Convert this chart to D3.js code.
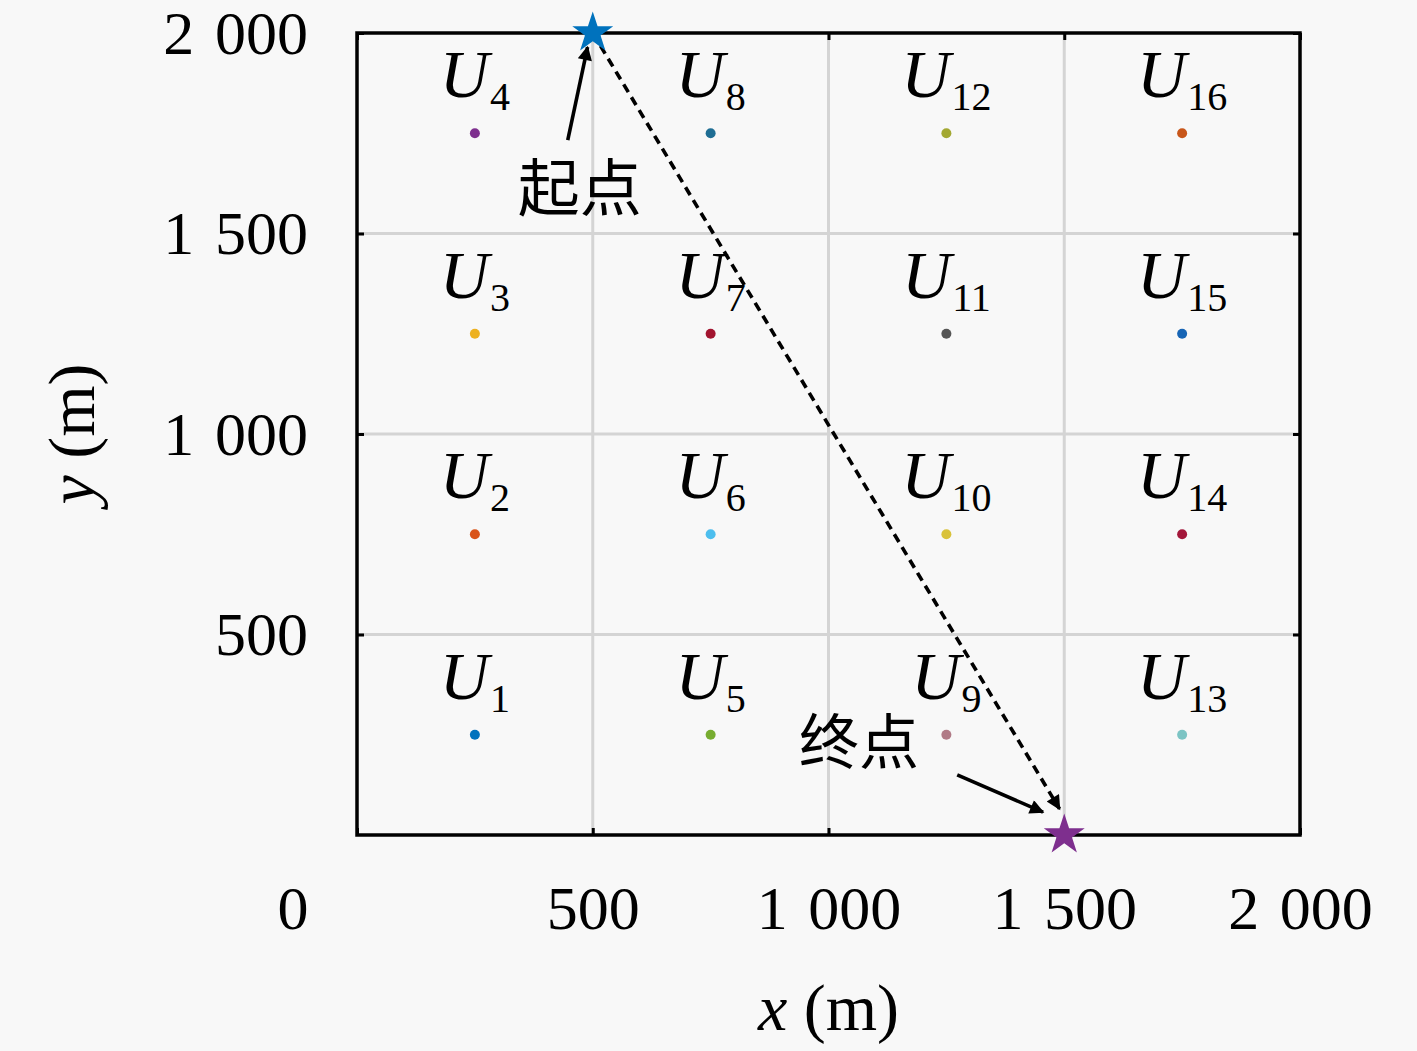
<!DOCTYPE html>
<html><head><meta charset="utf-8">
<script src="https://cdn.jsdelivr.net/npm/d3@7"></script>
<style>
html,body{margin:0;padding:0;background:#f8f8f8;}
svg{display:block;}
</style></head>
<body>
<script>
// ---- data ----
const userIds = [1,2,3,4,5,6,7,8,9,10,11,12,13,14,15,16];
const userX = [250,250,250,250,750,750,750,750,1250,1250,1250,1250,1750,1750,1750,1750];
const userY = [250,750,1250,1750,250,750,1250,1750,250,750,1250,1750,250,750,1250,1750];
const userColors = ["#0072BD","#D95319","#EDB120","#7E2F8E","#77AC30","#4DBEEE","#A2142F","#1f6e94",
                    "#b07a86","#d9c23a","#555555","#a3a832","#7cc4c4","#a3173a","#1765b5","#c8561a"];
const xTicks = [0,500,1000,1500,2000];
const xTickLabels = ["0","500","1\u2004000","1\u2004500","2\u2004000"];
const yTicks = [500,1000,1500,2000];
const yTickLabels = ["500","1\u2004000","1\u2004500","2\u2004000"];
const startPoint = [500,2000];
const endPoint = [1500,0];
const pathArrow = [[500,2000],[1490,65]];
const startArrow = [[447,1733],[489,1965]];
const endArrow = [[1273,150],[1455,57]];
const startText = {label:"起点", x:341, y:1555};
const endText = {label:"终点", x:1192, y:178};

// ---- layout ----
const W = 1417, H = 1051;
const svg = d3.select("body").append("svg").attr("width",W).attr("height",H)
  .style("background","#f8f8f8");
const x = d3.scaleLinear().domain([0,2000]).range([357,1300]);
const y = d3.scaleLinear().domain([0,2000]).range([835,33]);
const serif = "'Liberation Serif','DejaVu Serif',serif";
const cjk = "'Noto Sans CJK SC','Noto Sans CJK JP',sans-serif";

const defs = svg.append("defs");
defs.append("marker").attr("id","ah").attr("viewBox","0 0 10 10").attr("refX",9).attr("refY",5)
  .attr("markerWidth",6).attr("markerHeight",4).attr("markerUnits","strokeWidth").attr("orient","auto")
  .append("path").attr("d","M0,0 L10,5 L0,10 Z").attr("fill","#000");

// grid
const g = svg.append("g");
g.selectAll("line.gx").data(xTicks.filter(d=>d>0&&d<2000)).join("line")
  .attr("x1",d=>x(d)).attr("x2",d=>x(d)).attr("y1",y(0)).attr("y2",y(2000))
  .attr("stroke","#d4d4d4").attr("stroke-width",3);
g.selectAll("line.gy").data(yTicks.filter(d=>d>0&&d<2000)).join("line")
  .attr("y1",d=>y(d)).attr("y2",d=>y(d)).attr("x1",x(0)).attr("x2",x(2000))
  .attr("stroke","#d4d4d4").attr("stroke-width",3);

// axes
const axB = d3.axisBottom(x).tickValues(xTicks).tickFormat((d,i)=>xTickLabels[i]).tickSizeInner(-7).tickSizeOuter(0).tickPadding(50);
const axL = d3.axisLeft(y).tickValues(yTicks).tickFormat((d,i)=>yTickLabels[i]).tickSizeInner(-7).tickSizeOuter(0).tickPadding(49);
const axT = d3.axisTop(x).tickValues(xTicks).tickFormat("").tickSizeInner(-7).tickSizeOuter(0);
const axR = d3.axisRight(y).tickValues(yTicks).tickFormat("").tickSizeInner(-7).tickSizeOuter(0);
const gb = svg.append("g").attr("transform",`translate(0,${y(0)})`).call(axB);
const gl = svg.append("g").attr("transform",`translate(${x(0)},0)`).call(axL);
svg.append("g").attr("transform",`translate(0,${y(2000)})`).call(axT);
svg.append("g").attr("transform",`translate(${x(2000)},0)`).call(axR);
svg.selectAll(".domain").remove();
svg.selectAll(".tick line").attr("stroke","#000").attr("stroke-width",3);
svg.selectAll(".tick text").attr("font-family",serif).attr("font-size",62).attr("fill","#000");
gl.selectAll(".tick text").attr("dy","0.33em");
gb.selectAll(".tick text").attr("dy","0.71em");
// origin label sits under the y labels
gb.selectAll(".tick").filter(d=>d===0).select("text").attr("text-anchor","end").attr("x",-49);

// frame
svg.append("rect").attr("x",x(0)).attr("y",y(2000)).attr("width",x(2000)-x(0)).attr("height",y(0)-y(2000))
  .attr("fill","none").attr("stroke","#000").attr("stroke-width",3.5);

// path arrow (dashed)
svg.append("line").attr("x1",x(pathArrow[0][0])).attr("y1",y(pathArrow[0][1]))
  .attr("x2",x(pathArrow[1][0])).attr("y2",y(pathArrow[1][1]))
  .attr("stroke","#000").attr("stroke-width",3.6).attr("stroke-dasharray","9,6")
  .attr("marker-end","url(#ah)");
// annotation arrows
[startArrow,endArrow].forEach(a=>{
  svg.append("line").attr("x1",x(a[0][0])).attr("y1",y(a[0][1]))
    .attr("x2",x(a[1][0])).attr("y2",y(a[1][1]))
    .attr("stroke","#000").attr("stroke-width",3.6).attr("marker-end","url(#ah)");
});

// users
svg.selectAll("circle.u").data(userIds).join("circle")
  .attr("cx",(d,i)=>x(userX[i])).attr("cy",(d,i)=>y(userY[i])).attr("r",5)
  .attr("fill",(d,i)=>userColors[i]);
const lab = svg.selectAll("text.u").data(userIds).join("text")
  .attr("x",(d,i)=>x(userX[i])).attr("y",(d,i)=>y(userY[i])-36)
  .attr("text-anchor","middle").attr("font-family",serif).attr("fill","#000");
lab.append("tspan").attr("font-style","italic").attr("font-size",68).text("U");
lab.append("tspan").attr("font-size",40).attr("dy",13).attr("dx",1).text(d=>d);

// stars
svg.append("path").attr("d",d3.symbol(d3.symbolStar,520)())
  .attr("transform",`translate(${x(startPoint[0])},${y(startPoint[1])})`).attr("fill","#0072BD");
svg.append("path").attr("d",d3.symbol(d3.symbolStar,520)())
  .attr("transform",`translate(${x(endPoint[0])},${y(endPoint[1])})`).attr("fill","#7E2F8E");

// chinese labels
svg.append("text").attr("x",x(startText.x)).attr("y",y(startText.y)).attr("font-family",cjk).attr("font-size",62)
  .attr("fill","#000").text(startText.label);
svg.append("text").attr("x",x(endText.x)).attr("y",y(endText.y)).attr("text-anchor","end")
  .attr("font-family",cjk).attr("font-size",60).attr("fill","#000").text(endText.label);

// axis titles
const xl = svg.append("text").attr("x",x(1000)).attr("y",1030).attr("text-anchor","middle")
  .attr("font-family",serif).attr("font-size",66);
xl.append("tspan").attr("font-style","italic").text("x");
xl.append("tspan").text(" (m)");
const yl = svg.append("text").attr("transform",`translate(94,${y(1000)}) rotate(-90)`).attr("text-anchor","middle")
  .attr("font-family",serif).attr("font-size",66);
yl.append("tspan").attr("font-style","italic").text("y");
yl.append("tspan").text(" (m)");
</script>
</body></html>
